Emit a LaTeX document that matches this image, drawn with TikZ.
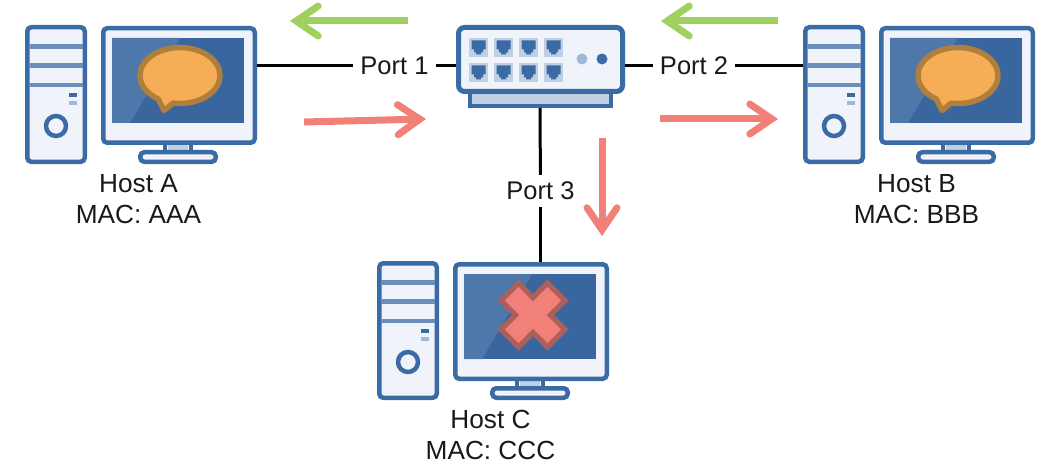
\documentclass[tikz,border=0pt]{standalone}
\usepackage{fontspec}
\setmainfont[Kerning=Off]{Liberation Sans}
\usetikzlibrary{arrows.meta}
\definecolor{edge}{HTML}{3B6BA5}
\definecolor{body}{HTML}{F0F3F9}
\definecolor{shelf}{HTML}{6A8FBC}
\definecolor{screen}{HTML}{3A66A0}
\definecolor{glare}{HTML}{4F78AA}
\definecolor{cell}{HTML}{BFCFE4}
\definecolor{ledlt}{HTML}{A0B8D6}
\definecolor{bubfill}{HTML}{F5AE55}
\definecolor{bubedge}{HTML}{B07F3B}
\definecolor{xfill}{HTML}{F08078}
\definecolor{xedge}{HTML}{AD5F5B}
\definecolor{tx}{HTML}{F08078}
\definecolor{rx}{HTML}{A0D060}
\tikzset{
  x=1pt,y=-1pt,
  every node/.style={font=\fontsize{25.5}{30}\selectfont, text=black!90},
  shellbox/.style={draw=edge,fill=body,line width=4.5pt,rounded corners=4pt,inner sep=0pt,text height=0pt,text depth=0pt},
  shelfline/.style={draw=shelf,line width=4.5pt},
  portlabel/.style={inner xsep=7pt,inner ysep=7pt},
  hosttext/.style={anchor=base,inner sep=0pt,font=\fontsize{26.2}{30}\selectfont},
  wire/.style={draw=black,line width=3pt},
  flow/.style={line width=7pt,-{Straight Barb[length=22pt,width=30pt,line cap=round]}},
  txflow/.style={flow,draw=tx},
  rxflow/.style={flow,draw=rx},
}
% name, x, y, first line, second line
\newcommand{\computer}[5]{%
\begin{scope}[shift={(#2,#3)}]
  \node[shellbox,minimum width=57.5pt,minimum height=134.5pt] (tower#1) at (31,69.5) {};
  \draw[shelfline] (4,21.7) -- (58,21.7) (4,40.7) -- (58,40.7) (4,60) -- (58,60);
  \fill[edge] (44,68) rectangle (52,72);
  \fill[ledlt] (44,75.7) rectangle (52,80);
  \draw[edge,line width=4.5pt] (31,101) circle[radius=10];
  \draw[edge,fill=body,line width=4.5pt] (140.2,116) rectangle (165.8,129);
  \fill[cell] (143,119) rectangle (163,125);
  \node[shellbox,minimum width=151.5pt,minimum height=114.5pt] (monitor#1) at (154,60.5) {};
  \fill[screen] (87,13) rectangle (219,98);
  \fill[glare] (87,13) -- (155,13) -- (105,98) -- (87,98) -- cycle;
  \node[shellbox,minimum width=75.5pt,minimum height=9.5pt] (stand#1) at (153,132) {};
  \node[hosttext] (name#1) at (113.5,167) {#4};
  \node[hosttext] (mac#1) at (113.5,198) {#5};
\end{scope}}
\newcommand{\bubble}[2]{%
\begin{scope}[shift={(#1,#2)}]
  \draw[draw=bubedge,fill=bubfill,line width=5.5pt,line join=round]
    (-21.8,23.5) arc[start angle=123,end angle=460,x radius=40,y radius=28] -- (-16,35) -- cycle;
\end{scope}}
\newcommand{\portcell}[2]{%
\begin{scope}[shift={(#1,#2)}]
  \fill[cell] (0,0) rectangle (19,19);
  \fill[edge] (2.5,2.5) -- (16.5,2.5) -- (16.5,11.5) -- (14,11.5) -- (14,14.5) -- (12,14.5) -- (12,16.5) -- (7,16.5) -- (7,14.5) -- (5,14.5) -- (5,11.5) -- (2.5,11.5) -- cycle;
\end{scope}}
\begin{document}
\begin{tikzpicture}
\useasboundingbox (0,0) rectangle (1060,468);
\fill[white] (0,0) rectangle (1060,468);
\computer{A}{25}{25}{Host A}{MAC: AAA}
\computer{B}{803}{25}{Host B}{MAC: BBB}
\computer{C}{377}{261}{Host C}{MAC: CCC}
\bubble{180}{75.5}
\bubble{958}{75.5}
% failed delivery mark
\begin{scope}[shift={(533,315)}]
  \draw[draw=xedge,fill=xfill,line width=5pt,line join=miter]
    (0,-17.5) -- (14.5,-32) -- (32,-14.5) -- (17.5,0) -- (32,14.5) -- (14.5,32) -- (0,17.5) -- (-14.5,32) -- (-32,14.5) -- (-17.5,0) -- (-32,-14.5) -- (-14.5,-32) -- cycle;
\end{scope}
% switch
\draw[edge,fill=cell,line width=4pt] (470,90) rectangle (611,106);
\node[shellbox,line width=5pt,rounded corners=6pt,minimum width=164pt,minimum height=64pt] (switch) at (540.5,59.5) {};
\foreach \px in {469,494,519,544}{\portcell{\px}{38}\portcell{\px}{63}}
\fill[ledlt] (582,59) circle[radius=5.5];
\fill[edge] (602,59) circle[radius=5.5];
\coordinate (swbase) at (540,108);
% links
\node[portlabel] (p1) at (394.5,65.5) {Port 1};
\node[portlabel] (p2) at (694,65.5) {Port 2};
\node[portlabel] (p3) at (540.5,191) {Port 3};
\draw[wire] (monitorA.east |- p1) -- (p1);
\draw[wire] (p1) -- (switch.west |- p1);
\draw[wire] (switch.east |- p2) -- (p2);
\draw[wire] (p2) -- (towerB.west |- p2);
\draw[wire] (swbase) -- (p3);
\draw[wire] (p3) -- (monitorC.north -| p3);
% traffic arrows
\coordinate (a1s) at (408,21); \coordinate (a1e) at (290,21);
\coordinate (a2s) at (778,21); \coordinate (a2e) at (661,21);
\coordinate (a3s) at (304,122); \coordinate (a3e) at (426,119);
\coordinate (a4s) at (660,119); \coordinate (a4e) at (778,119);
\coordinate (a5s) at (602,138); \coordinate (a5e) at (602,236);
\draw[rxflow] (a1s) -- (a1e);
\draw[rxflow] (a2s) -- (a2e);
\draw[txflow] (a3s) -- (a3e);
\draw[txflow] (a4s) -- (a4e);
\draw[txflow] (a5s) -- (a5e);
\end{tikzpicture}
\end{document}
